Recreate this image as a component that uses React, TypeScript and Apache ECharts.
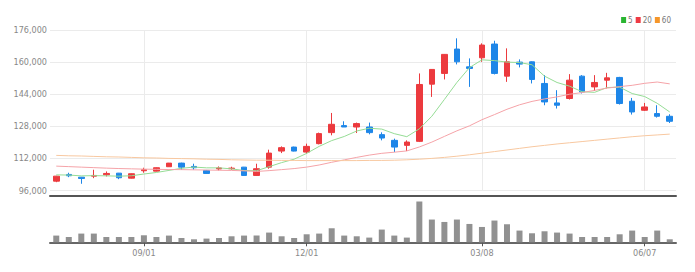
import React, { useEffect, useRef } from 'react';
import * as echarts from 'echarts';

const categories = [
  '07/14', '07/21', '07/28', '08/04', '08/11', '08/18', '08/25', '09/01', '09/08', '09/15',
  '09/22', '09/29', '10/06', '10/13', '10/20', '10/27', '11/03', '11/10', '11/17', '11/24',
  '12/01', '12/08', '12/15', '12/22', '12/29', '01/05', '01/12', '01/19', '01/26', '02/02',
  '02/09', '02/16', '02/23', '03/01', '03/08', '03/15', '03/22', '03/29', '04/05', '04/12',
  '04/19', '04/26', '05/03', '05/10', '05/17', '05/24', '05/31', '06/07', '06/14', '06/21',
];

// [open, close, low, high]
const ohlc = [
  [100650, 103150, 100150, 103300],
  [104000, 103350, 102650, 104850],
  [102650, 102000, 99350, 102750],
  [103150, 103500, 102150, 106350],
  [103850, 104500, 103000, 105500],
  [104650, 102350, 101650, 104750],
  [102150, 104350, 102000, 104500],
  [105850, 106350, 104850, 107350],
  [105650, 107350, 105500, 107500],
  [107850, 109650, 107750, 109750],
  [109650, 107650, 106350, 109850],
  [108000, 107350, 106350, 109350],
  [106000, 104500, 104250, 106250],
  [106750, 107250, 106000, 108000],
  [106850, 107150, 106350, 107850],
  [107650, 103500, 103250, 107750],
  [103500, 106850, 103350, 109350],
  [107650, 114650, 106850, 116350],
  [115650, 117350, 114650, 118000],
  [117650, 115650, 115500, 117850],
  [115150, 118000, 114350, 119350],
  [119350, 124350, 119000, 124850],
  [124850, 129000, 123500, 134650],
  [128350, 127650, 127650, 130500],
  [127650, 129350, 124650, 129850],
  [127650, 124850, 124000, 129850],
  [123850, 122150, 121000, 125000],
  [121000, 117650, 115150, 121850],
  [118500, 120150, 115650, 121000],
  [120500, 148850, 120150, 154350],
  [149000, 156350, 142650, 156500],
  [154350, 163850, 151350, 164000],
  [166500, 160150, 158850, 171850],
  [157650, 156850, 147650, 161850],
  [162150, 168500, 160150, 169350],
  [169000, 154350, 153850, 170650],
  [153000, 160150, 150150, 166850],
  [160000, 159000, 157350, 161350],
  [160150, 151350, 149350, 160350],
  [149350, 140150, 138500, 153500],
  [139650, 138500, 136850, 146000],
  [141850, 151000, 141350, 154000],
  [153000, 145150, 144350, 153500],
  [147650, 149850, 145650, 153500],
  [151000, 152150, 146850, 154650],
  [152350, 139350, 138850, 152650],
  [140500, 135150, 133850, 142150],
  [136000, 137650, 135650, 139650],
  [134350, 133000, 132350, 138500],
  [133000, 130500, 129650, 134000],
];

const ma5 = [
  103800, 103700, 103300, 103400, 103300, 103140, 103340, 104210, 104980, 106010,
  107070, 107670, 107300, 107280, 106780, 105950, 105850, 107880, 109900, 111600,
  114500, 118000, 120870, 122930, 125670, 127040, 126600, 124330, 122830, 126730,
  133030, 141370, 149870, 157210, 161140, 160740, 160000, 159770, 158670, 153000,
  149830, 148000, 145230, 144930, 147330, 147500, 144330, 142830, 139460, 135130,
];

const ma20 = [
  108150, 107900, 107650, 107400, 107150, 106950, 106800, 106650, 106550, 106450,
  106400, 106300, 106200, 106100, 106000, 105800, 105500, 105900, 106400, 106920,
  107665, 108715, 110065, 111270, 112515, 113640, 114530, 115095, 115735, 117695,
  120130, 122955, 125738, 128218, 131285, 133828, 136493, 138710, 140410, 141635,
  142660, 143993, 144800, 145910, 147050, 147775, 148425, 149425, 150068, 149150,
];

const ma60 = [
  113500, 113300, 113200, 113000, 112800, 112700, 112500, 112300, 112200, 112000,
  111900, 111800, 111600, 111500, 111300, 111200, 111100, 111100, 111000, 111000,
  110900, 110900, 110900, 110900, 110900, 111000, 111000, 111100, 111300, 111600,
  112000, 112500, 113100, 113800, 114600, 115400, 116200, 117000, 117800, 118500,
  119200, 119800, 120400, 121000, 121600, 122200, 122800, 123300, 123700, 124100,
];

const volumes = [
  6700, 5300, 8700, 8700, 5300, 5300, 5300, 7000, 5300, 6700,
  4300, 3000, 3700, 4300, 6000, 6700, 6700, 9700, 6000, 4300,
  8000, 8700, 14000, 6700, 6000, 4700, 12700, 6700, 4700, 40700,
  22700, 20300, 22700, 18300, 15300, 21700, 18000, 11700, 9000, 11000,
  9700, 8700, 5300, 5300, 5300, 8000, 11700, 5300, 11700, 3000,
];

const xTickLabels = ['09/01', '12/01', '03/08', '06/07'];
const legendNames = ['5', '20', '60'];

const FONT = "'Liberation Sans Narrow', 'DejaVu Sans Condensed', 'Noto Sans', sans-serif";

export default function App() {
  const ref = useRef<HTMLDivElement>(null);
  useEffect(() => {
    if (!ref.current) return;
    const chart = echarts.init(ref.current, undefined, { renderer: 'svg' });
    const showTick = (index: number) => xTickLabels.includes(categories[index]);
    chart.setOption({
      animation: false,
      backgroundColor: '#ffffff',
      textStyle: { fontFamily: FONT },
      legend: {
        data: legendNames,
        right: 19,
        top: 11,
        icon: 'rect',
        itemWidth: 5,
        itemHeight: 6,
        itemGap: 3,
        selectedMode: false,
        textStyle: { fontSize: 8, color: '#777', fontFamily: FONT, padding: [0, 0, 0, -3] },
      },
      grid: [
        { left: 50, right: 19, top: 30, height: 160.5 },
        { left: 50, right: 19, top: 201.5, height: 40.8 },
      ],
      xAxis: [
        {
          type: 'category',
          gridIndex: 0,
          data: categories,
          boundaryGap: true,
          offset: 5,
          axisLine: { show: true, lineStyle: { color: '#555', width: 2 } },
          axisTick: { show: false },
          axisLabel: { show: false },
          splitLine: {
            show: true,
            interval: (i: number) => showTick(i),
            alignWithLabel: true,
            lineStyle: { color: '#ebebeb', width: 1 },
          },
        },
        {
          type: 'category',
          gridIndex: 1,
          data: categories,
          boundaryGap: true,
          axisLine: { show: true, lineStyle: { color: '#666', width: 2 } },
          axisTick: {
            show: true,
            interval: (i: number) => showTick(i),
            alignWithLabel: true,
            length: 4,
            lineStyle: { color: '#555', width: 1 },
          },
          axisLabel: {
            interval: (i: number) => showTick(i),
            color: '#888',
            fontSize: 9,
            margin: 6,
            fontFamily: FONT,
          },
          splitLine: { show: false },
        },
      ],
      yAxis: [
        {
          type: 'value',
          gridIndex: 0,
          min: 96000,
          max: 176000,
          interval: 16000,
          axisLine: { show: false },
          axisTick: { show: false },
          axisLabel: {
            color: '#888',
            fontSize: 9,
            margin: 3,
            fontFamily: FONT,
            formatter: (v: number) => v.toLocaleString('en-US'),
          },
          splitLine: { show: true, lineStyle: { color: '#ebebeb', width: 1 } },
        },
        {
          type: 'value',
          gridIndex: 1,
          min: 0,
          max: 'dataMax',
          show: false,
          splitLine: { show: false },
        },
      ],
      series: [
        {
          type: 'candlestick',
          xAxisIndex: 0,
          yAxisIndex: 0,
          data: ohlc,
          barWidth: 6,
          itemStyle: {
            color: '#ec3a3e',
            color0: '#1e86e8',
            borderColor: '#ec3a3e',
            borderColor0: '#1e86e8',
            borderWidth: 1,
          },
        },
        {
          name: '5',
          type: 'line',
          data: ma5,
          showSymbol: false,
          symbol: 'none',
          itemStyle: { color: '#2ab531' },
          lineStyle: { color: '#95dc95', width: 1 },
        },
        {
          name: '20',
          type: 'line',
          data: ma20,
          showSymbol: false,
          symbol: 'none',
          itemStyle: { color: '#ee3a44' },
          lineStyle: { color: '#f5a3a8', width: 1 },
        },
        {
          name: '60',
          type: 'line',
          data: ma60,
          showSymbol: false,
          symbol: 'none',
          itemStyle: { color: '#f5962a' },
          lineStyle: { color: '#f8c8a0', width: 1 },
        },
        {
          type: 'bar',
          xAxisIndex: 1,
          yAxisIndex: 1,
          data: volumes,
          barWidth: 6,
          itemStyle: { color: '#919191' },
        },
      ],
    });
    return () => chart.dispose();
  }, []);
  return (
    <div
      ref={ref}
      style={{ position: 'fixed', left: 0, top: 0, width: 695, height: 272, background: '#fff' }}
    />
  );
}
